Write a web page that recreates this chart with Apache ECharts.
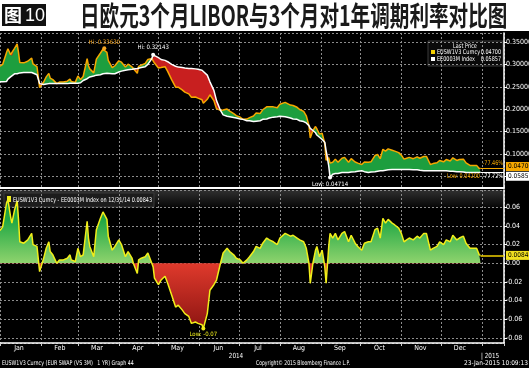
<!DOCTYPE html>
<html><head><meta charset="utf-8">
<script src="https://cdn.jsdelivr.net/npm/echarts@6/dist/echarts.min.js"></script>
<style>html,body{margin:0;padding:0;background:#000;}#c{width:529px;height:368px;}</style>
</head><body><div id="c"></div>
<script>
// ---- data ----
const dates = ['2014-01-01','2014-01-03','2014-01-06','2014-01-07','2014-01-09','2014-01-10','2014-01-12','2014-01-14','2014-01-15','2014-01-16','2014-01-19','2014-01-22','2014-01-25','2014-01-26','2014-01-29','2014-01-31',
'2014-02-03','2014-02-05','2014-02-07','2014-02-08','2014-02-10','2014-02-13','2014-02-15','2014-02-18','2014-02-21','2014-02-23','2014-02-24','2014-02-27',
'2014-03-01','2014-03-03','2014-03-05','2014-03-08','2014-03-09','2014-03-10','2014-03-13','2014-03-15','2014-03-18','2014-03-20','2014-03-23','2014-03-24','2014-03-27','2014-03-29',
'2014-04-01','2014-04-03','2014-04-06','2014-04-08','2014-04-11','2014-04-12','2014-04-15','2014-04-16','2014-04-18','2014-04-21','2014-04-23','2014-04-26','2014-04-27','2014-04-28',
'2014-05-01','2014-05-03','2014-05-06','2014-05-08','2014-05-11','2014-05-14','2014-05-16','2014-05-19','2014-05-21','2014-05-24','2014-05-26','2014-05-29','2014-05-31',
'2014-06-03','2014-06-04','2014-06-07','2014-06-09','2014-06-12','2014-06-14','2014-06-17','2014-06-19','2014-06-22','2014-06-24','2014-06-27','2014-06-29',
'2014-07-02','2014-07-04','2014-07-07','2014-07-09','2014-07-12','2014-07-14','2014-07-17','2014-07-19','2014-07-22','2014-07-24','2014-07-27','2014-07-30',
'2014-08-01','2014-08-05','2014-08-09','2014-08-11','2014-08-14','2014-08-16','2014-08-19','2014-08-21','2014-08-23','2014-08-24','2014-08-26','2014-08-28','2014-08-29','2014-08-31',
'2014-09-02','2014-09-04','2014-09-05','2014-09-07','2014-09-08','2014-09-10','2014-09-12','2014-09-14','2014-09-17','2014-09-19','2014-09-22','2014-09-24','2014-09-27','2014-09-29',
'2014-10-02','2014-10-04','2014-10-07','2014-10-09','2014-10-12','2014-10-14','2014-10-16','2014-10-18','2014-10-20','2014-10-22','2014-10-25','2014-10-27','2014-10-30',
'2014-11-01','2014-11-03','2014-11-05','2014-11-07','2014-11-10','2014-11-13','2014-11-15','2014-11-18','2014-11-20','2014-11-23','2014-11-25','2014-11-28','2014-11-30',
'2014-12-03','2014-12-05','2014-12-08','2014-12-10','2014-12-13','2014-12-15','2014-12-18','2014-12-20','2014-12-23','2014-12-25','2014-12-28','2014-12-30','2014-12-31'];

// EE0003M Index (white line, top panel)
const libor = [0.261,0.261,0.262,0.267,0.272,0.275,0.279,0.279,0.280,0.281,0.282,0.282,0.282,0.281,0.277,0.257,
0.255,0.256,0.257,0.257,0.257,0.257,0.257,0.257,0.257,0.258,0.258,0.258,
0.258,0.259,0.264,0.268,0.270,0.272,0.274,0.276,0.277,0.279,0.280,0.280,0.279,0.279,
0.283,0.285,0.287,0.288,0.289,0.291,0.291,0.292,0.293,0.295,0.300,0.313,0.3214,0.319,
0.315,0.311,0.309,0.306,0.300,0.296,0.294,0.293,0.292,0.291,0.291,0.290,0.289,
0.287,0.283,0.276,0.261,0.242,0.219,0.197,0.187,0.184,0.183,0.181,0.180,
0.178,0.177,0.174,0.174,0.172,0.173,0.174,0.177,0.178,0.180,0.182,0.183,
0.184,0.183,0.180,0.178,0.177,0.174,0.172,0.169,0.163,0.157,0.152,0.147,0.142,0.137,
0.132,0.126,0.107,0.073,0.0471,0.054,0.056,0.056,0.058,0.058,0.058,0.059,0.060,0.061,
0.062,0.060,0.058,0.059,0.060,0.061,0.062,0.062,0.063,0.064,0.065,0.065,0.065,
0.065,0.065,0.065,0.065,0.064,0.064,0.063,0.062,0.062,0.062,0.062,0.062,0.062,
0.062,0.062,0.061,0.061,0.060,0.060,0.059,0.058,0.058,0.058,0.058,0.058,0.0586];

// EUSW1V3 Curncy - EE0003M Index (bottom panel)
const spread = [0.035,0.039,0.065,0.068,0.050,0.043,0.057,0.067,0.047,0.023,0.0215,0.025,0.032,0.020,0.018,-0.009,
0.005,0.016,0.023,0.0125,0.009,0.000,0.0036,0.0036,0.0054,0.009,0.0036,0.0018,
0.016,0.007,0.009,0.045,0.027,0.018,0.007,0.036,0.048,0.055,0.047,0.029,0.014,0.018,
0.025,0.020,0.007,0.0125,0.0054,0.000,-0.011,0.0036,0.0054,0.007,0.011,0.000,-0.004,-0.016,
-0.023,-0.018,-0.014,-0.0215,-0.034,-0.047,-0.045,-0.050,-0.054,-0.057,-0.0645,-0.063,-0.0645,
-0.066,-0.070,-0.054,-0.029,-0.023,-0.018,0.000,0.011,0.016,0.0125,0.009,0.0054,
0.0036,0.000,0.0036,0.007,0.0125,0.018,0.016,0.0215,0.027,0.025,0.023,0.020,
0.027,0.032,0.029,0.030,0.027,0.025,0.023,0.016,0.000,-0.0215,0.000,0.014,0.018,0.007,
0.014,-0.0036,-0.0215,0.018,0.032,0.027,0.032,0.025,0.032,0.034,0.023,0.030,0.0215,0.018,
0.014,0.0215,0.023,0.023,0.036,0.0376,0.027,0.048,0.043,0.047,0.043,0.041,0.0376,
0.032,0.023,0.025,0.027,0.025,0.029,0.027,0.032,0.032,0.014,0.016,0.018,0.023,
0.020,0.025,0.023,0.030,0.025,0.027,0.029,0.0215,0.016,0.016,0.016,0.009,0.0084];

const monthLabels = ['Jan','Feb','Mar','Apr','May','Jun','Jul','Aug','Sep','Oct','Nov','Dec'];
const seriesNames = ['EUSW1V3 Curncy','EE0003M Index'];
const lastPrices = ['0.04700','0.05857'];
const spreadLegend = 'EUSW1V3 Curncy - EE0003M Index on 12/31/14 0.00843';
const spreadLastLabel = '0.00843';
const hiSwap = ['2014-03-21', 0.33630];
const hiLibor = ['2014-04-27', 0.32143];
const lowLibor = ['2014-09-08', 0.04714];
const lowSpread = ['2014-06-04', -0.07];
const pctChanges = ['-77.46%','-77.72%'];
const lowSwapText = 'Low: 0.04200';
const titleText = '日欧元3个月LIBOR与3个月对1年调期利率对比图';
const figLabel = ['图','10'];
const footer = ['EUSW1V3 Curncy (EUR SWAP (VS 3M)   1 YR) Graph 44','Copyright© 2015 Bloomberg Finance L.P.','23-Jan-2015 10:09:13'];
const yearLabels = ['2014','| 2015'];

// ---- build ----
const FONT = "'Liberation Sans Narrow','DejaVu Sans Condensed','Liberation Sans',sans-serif";
const xMin = new Date(2014,0,1).getTime();
const xMax = new Date(2015,0,17,18).getTime();
const DAY = 86400000;
const lastDate = dates[dates.length-1];
const n = dates.length;
const libData = dates.map((d,i)=>[d, libor[i]]);
const posData = dates.map((d,i)=>[d, Math.max(spread[i],0)]);
const negData = dates.map((d,i)=>[d, Math.min(spread[i],0)]);
const sprData = dates.map((d,i)=>[d, spread[i]]);
const swapLast = libor[n-1] + spread[n-1];

function txt(x, y, text, fill, o){
  o = o || {};
  return {type:'text', x:x, y:y, scaleX:o.sx||0.84, z:10,
    style:{text:text, fill:fill, fontSize:o.fs||6.5, fontFamily:FONT, align:o.align||'left', verticalAlign:'middle'}};
}

const gridLine = {show:true, lineStyle:{color:'#8c8c8c', type:[2,2], width:1}};
function xAxisFor(g){
  return {type:'time', gridIndex:g, min:xMin, max:xMax, minInterval:27*DAY, maxInterval:31*DAY,
    axisLine:{show:true, onZero:false, lineStyle:{color:'#fff', width: g===0?2:1.5}},
    axisTick:{show:g===1, length:3, lineStyle:{color:'#ccc'}},
    axisLabel:{show:g===1, color:'#fff', fontSize:7, fontFamily:FONT, margin:2, align:'center', padding:[0,0,0,38],
      hideOverlap:false, showMinLabel:true, showMaxLabel:true,
      formatter:function(v){const d=new Date(v); return d.getFullYear()===2014? monthLabels[d.getMonth()] : '';}},
    splitLine:gridLine};
}
const option = {
  animation:false,
  backgroundColor:'#000',
  grid:[{left:0,right:25,top:33,height:155,outerBoundsMode:'none'},{left:0,right:25,top:190,height:153,outerBoundsMode:'none'}],
  xAxis:[xAxisFor(0), xAxisFor(1)],
  yAxis:[
    {type:'value', gridIndex:0, position:'right', min:0.0234, max:0.3703, splitNumber:7,
     axisLine:{show:true, lineStyle:{color:'#fff', width:1.5}}, axisTick:{show:true, length:3, lineStyle:{color:'#fff'}},
     axisLabel:{color:'#fff', fontSize:7, fontFamily:FONT, margin:2, showMinLabel:false, showMaxLabel:false, formatter:v=>v.toFixed(5)},
     splitLine:gridLine},
    {type:'value', gridIndex:1, position:'right', min:-0.0855, max:0.0785, splitNumber:8,
     axisLine:{show:true, lineStyle:{color:'#fff', width:1.5}}, axisTick:{show:true, length:3, lineStyle:{color:'#fff'}},
     axisLabel:{color:'#fff', fontSize:7, fontFamily:FONT, margin:2, showMinLabel:false, showMaxLabel:false, formatter:v=>v.toFixed(2)},
     splitLine:gridLine}
  ],
  series:[
    {name:seriesNames[1], type:'line', xAxisIndex:0, yAxisIndex:0, data:libData, stack:'gap', stackStrategy:'all',
     symbol:'none', z:5, lineStyle:{color:'#ffffff', width:1.5},
     markPoint:{symbol:'circle', symbolSize:4, itemStyle:{color:'#fff'},
       label:{show:true, fontSize:6, fontFamily:FONT},
       data:[
        {coord:hiSwap, itemStyle:{color:'#f5a623'}, label:{formatter:'Hi: '+hiSwap[1].toFixed(5), color:'#f5a623', position:'top', distance:1}},
        {coord:hiLibor, label:{formatter:'Hi: '+hiLibor[1].toFixed(5), color:'#fff', position:'top', distance:2}},
        {coord:lowLibor, label:{formatter:'Low: '+lowLibor[1].toFixed(5), color:'#fff', position:'bottom', distance:2}}
       ]},
     markLine:{silent:true, symbol:['none','none'], lineStyle:{color:'#fff', type:'solid', width:1},
       label:{show:true, position:'end', distance:2, formatter:lastPrices[1], backgroundColor:'#fff', color:'#000', fontSize:6.5, fontFamily:FONT, padding:[1,2], offset:[0,4]},
       data:[[{coord:[lastDate, libor[n-1]]},{coord:[xMax, libor[n-1]]}]]}},
    {name:'pos', type:'line', xAxisIndex:0, yAxisIndex:0, data:posData, stack:'gap', stackStrategy:'all',
     symbol:'none', lineStyle:{width:0, opacity:0}, areaStyle:{color:'#1d9e3e', opacity:1}},
    {name:seriesNames[0], type:'line', xAxisIndex:0, yAxisIndex:0, data:negData, stack:'gap', stackStrategy:'all',
     symbol:'none', z:4, lineStyle:{color:'#f5a800', width:1.5}, areaStyle:{color:'#c81f1f', opacity:1},
     markLine:{silent:true, symbol:['none','none'], lineStyle:{color:'#f5a800', type:'solid', width:1},
       label:{show:true, position:'end', distance:2, formatter:lastPrices[0], backgroundColor:'#f5a800', color:'#000', fontSize:6.5, fontFamily:FONT, padding:[1,2], offset:[0,-2]},
       data:[[{coord:[lastDate, swapLast]},{coord:[xMax, swapLast]}]]}},
    {name:'spread', type:'line', xAxisIndex:1, yAxisIndex:1, data:sprData, symbol:'none',
     lineStyle:{color:'#f0ee1a', width:1.5},
     areaStyle:{opacity:1, color:{type:'linear', x:0, y:190, x2:0, y2:343, global:true,
       colorStops:[{offset:0,color:'#14923a'},{offset:0.2,color:'#22a845'},{offset:0.477,color:'#8ed36d'},
                   {offset:0.477,color:'#e03a2c'},{offset:1,color:'#7a0c0c'}]}},
     markPoint:{symbol:'circle', symbolSize:4, itemStyle:{color:'#f0ee1a'},
       label:{show:true, fontSize:6, fontFamily:FONT, color:'#f0ee1a', position:'bottom', distance:1, formatter:'Low: '+lowSpread[1].toFixed(2)},
       data:[{coord:lowSpread}]},
     markLine:{silent:true, symbol:['none','none'], lineStyle:{color:'#f0d000', type:'solid', width:1.5},
       label:{show:true, position:'end', distance:2, formatter:spreadLastLabel, backgroundColor:'#f0e020', color:'#000', fontSize:6.5, fontFamily:FONT, padding:[1,2]},
       data:[[{coord:[lastDate, spread[n-1]]},{coord:[xMax, spread[n-1]]}]]}}
  ],
  graphic:[
    {type:'rect', z:-5, shape:{x:0,y:0,width:529,height:31}, style:{fill:'#fff'}},
    {type:'rect', z:-5, shape:{x:0,y:190,width:504,height:18},
     style:{fill:{type:'linear',x:0,y:0,x2:0,y2:1,colorStops:[{offset:0,color:'#303030'},{offset:1,color:'#050505'}]}}},
    {type:'rect', shape:{x:2,y:4,width:44,height:22}, style:{fill:'#111'}},
    {type:'text', x:4, y:6, style:{text:figLabel[0], fill:'#fff', fontSize:18, fontWeight:'bold', fontFamily:'Noto Sans CJK SC', verticalAlign:'top'}},
    {type:'text', x:25, y:7, style:{text:figLabel[1], fill:'#fff', fontSize:18, fontFamily:'Liberation Sans', verticalAlign:'top'}},
    {type:'text', x:80, y:2, scaleY:1.42, style:{text:titleText, fill:'#1a1a1a', fontSize:19.6, fontWeight:'bold', fontFamily:'Noto Sans CJK SC', verticalAlign:'top'}},
    // top legend
    {type:'rect', shape:{x:428,y:41,width:75,height:25}, style:{fill:'#0a0a0a', stroke:'#3a3a3a', lineWidth:1}},
    txt(465, 46, 'Last Price', '#fff', {align:'center'}),
    {type:'rect', shape:{x:431,y:50,width:4,height:4}, style:{fill:'#f5d000'}},
    txt(437, 52.5, seriesNames[0], '#fff'),
    txt(501, 52.5, lastPrices[0], '#fff', {align:'right'}),
    {type:'rect', shape:{x:431,y:57,width:4,height:4}, style:{fill:'#fff'}},
    txt(437, 59.5, seriesNames[1], '#fff'),
    txt(501, 59.5, lastPrices[1], '#fff', {align:'right'}),
    txt(503, 163, pctChanges[0], '#f5a800', {align:'right'}),
    txt(503, 176, pctChanges[1], '#fff', {align:'right'}),
    txt(447, 176, lowSwapText, '#f5a800'),
    // bottom legend
    {type:'rect', shape:{x:4,y:193,width:150,height:14}, style:{fill:'#1c1c1c', stroke:'#3a3a3a', lineWidth:1}},
    {type:'rect', shape:{x:7,y:196,width:4,height:6}, style:{fill:'#f0ee1a'}},
    txt(13, 200, spreadLegend, '#fff'),
    // year labels + footer
    txt(236, 356, yearLabels[0], '#fff', {align:'center', sx:0.9, fs:7}),
    txt(481, 356, yearLabels[1], '#fff', {sx:0.9, fs:7}),
    txt(2, 363.5, footer[0], '#fff', {sx:0.82}),
    txt(256, 363.5, footer[1], '#fff', {sx:0.78}),
    txt(528, 363.5, footer[2], '#fff', {align:'right', sx:1})
  ]
};
const chart = echarts.init(document.getElementById('c'), null, {renderer:'canvas'});
chart.setOption(option);
</script></body></html>
